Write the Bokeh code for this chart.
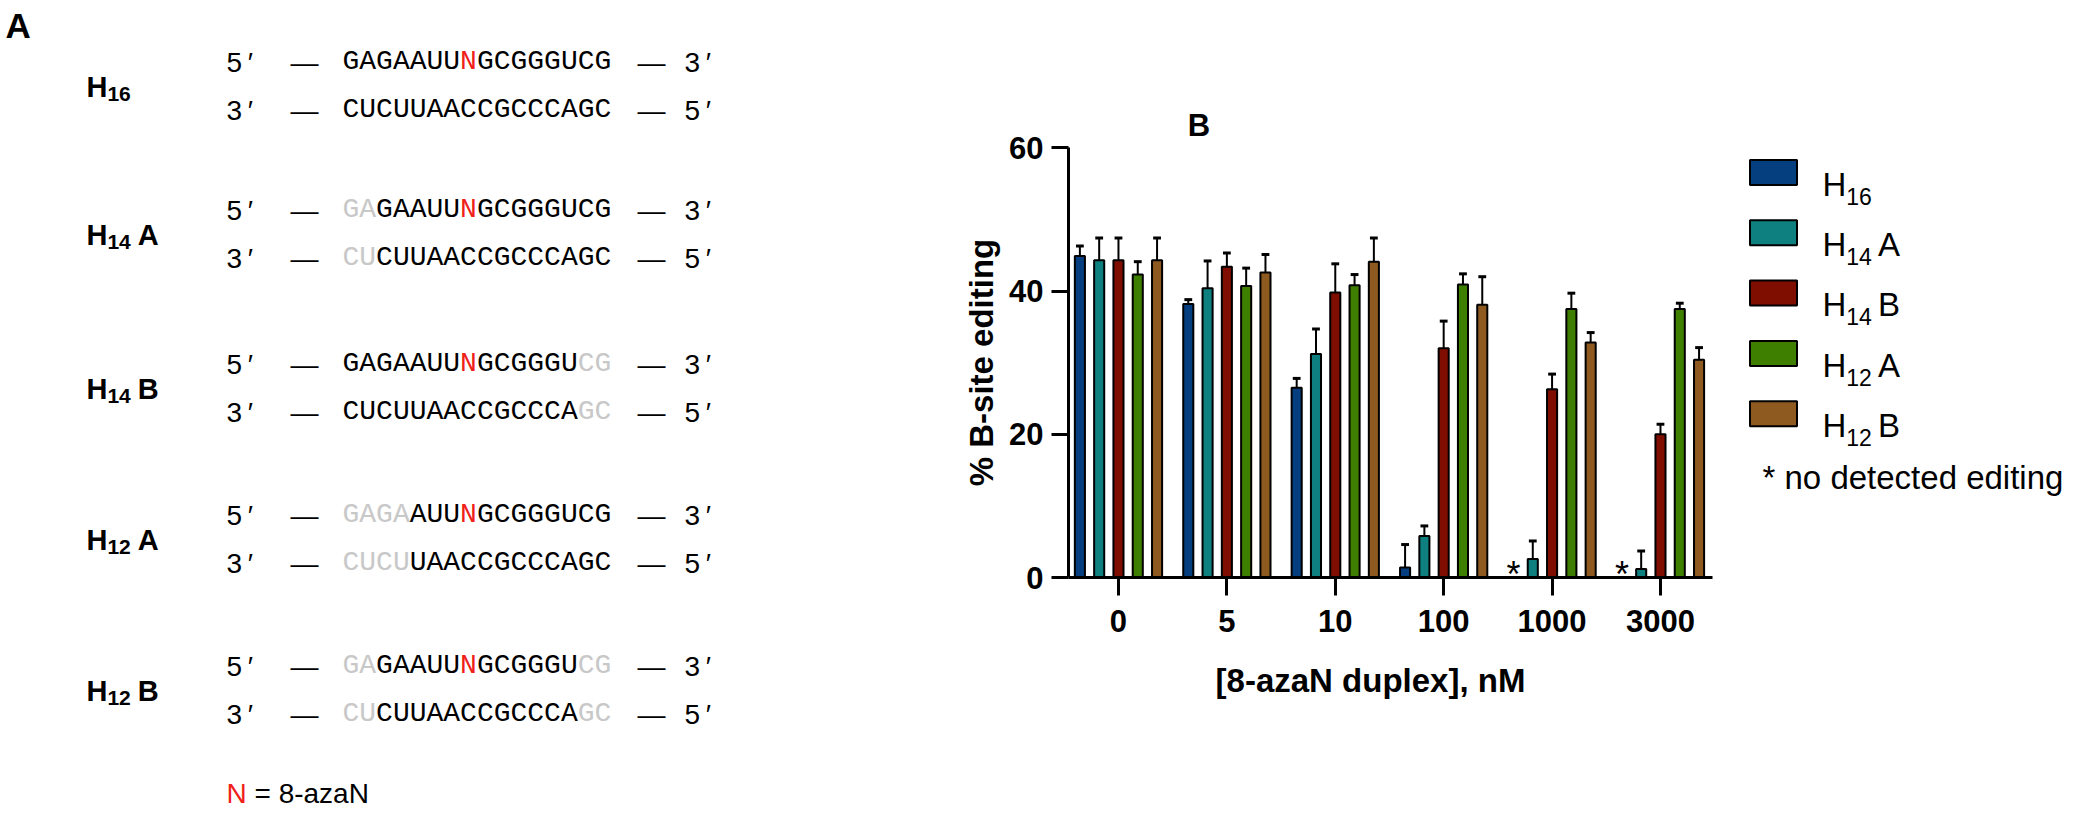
from bokeh.plotting import figure
from bokeh.models import Range1d, FixedTicker, ColumnDataSource, Label
from bokeh.embed import file_html
from bokeh.resources import INLINE
from bokeh.core.properties import value

# ---------------- data ----------------
concentrations = ["0", "5", "10", "100", "1000", "3000"]
series_main = ["H", "H", "H", "H", "H"]
series_sub = ["16", "14", "14", "12", "12"]
series_suffix = ["", "A", "B", "A", "B"]
series_colors = ["#063f80", "#0f8080", "#800e00", "#3f7f00", "#8f5a20"]

h16 = [44.9, 38.2, 26.5, 1.4, None, None]
h16_err = [1.4, 0.6, 1.3, 3.2, None, None]
h14a = [44.3, 40.4, 31.2, 5.8, 2.6, 1.2]
h14a_err = [3.1, 3.8, 3.5, 1.4, 2.5, 2.5]
h14b = [44.3, 43.4, 39.8, 32.0, 26.3, 20.0]
h14b_err = [3.1, 1.9, 4.0, 3.8, 2.1, 1.4]
h12a = [42.3, 40.7, 40.8, 40.9, 37.5, 37.5]
h12a_err = [1.8, 2.5, 1.5, 1.5, 2.2, 0.8]
h12b = [44.3, 42.6, 44.1, 38.1, 32.8, 30.4]
h12b_err = [3.1, 2.5, 3.3, 3.9, 1.4, 1.7]

y_ticks = [0, 20, 40, 60]
x_title = "[8-azaN duplex], nM"
y_title = "% B-site editing"
note_text = "* no detected editing"
panel_a = "A"
panel_b = "B"

top_strand = "GAGAAUUNGCGGGUCG"
bottom_strand = "CUCUUAACCGCCCAGC"
grey_top = [[], [0, 1], [14, 15], [0, 1, 2, 3], [0, 1, 14, 15]]
grey_bottom = [[], [0, 1], [14, 15], [0, 1, 2, 3], [0, 1, 14, 15]]
footnote_mark = "N"
footnote_rest = "\u00a0=\u00a08-azaN"

# ---------------- style ----------------
SANS = "Liberation Sans"
MONO = "Liberation Mono"
RED = "#f0201a"
GREY = "#c8c8c8"

W, H = 2069, 809
X0 = -0.461          # data x at the y axis
AX_PX = 1068         # canvas x of y axis
X_UNIT = 108.4       # px per category
Y0_PX = 577          # canvas y of y = 0
Y_UNIT = (577 - 147.3) / 60.0

x_lo = X0 - AX_PX / X_UNIT
x_hi = X0 + (W - AX_PX) / X_UNIT
y_lo = -(H - Y0_PX) / Y_UNIT
y_hi = Y0_PX / Y_UNIT

p = figure(width=W, height=H, x_range=Range1d(x_lo, x_hi), y_range=Range1d(y_lo, y_hi),
           toolbar_location=None, output_backend="svg", title=None, min_border=0,
           outline_line_color=None)
p.extra_x_ranges = {"px": Range1d(0, W)}
p.extra_y_ranges = {"py": Range1d(H, 0)}
p.xgrid.visible = False
p.ygrid.visible = False


def txt(x, y, s, size, color="black", bold=False, font=SANS, align="left"):
    p.text(x=[x], y=[y], text=[s], text_font=value(font),
           text_font_size=value(f"{size}px"), text_color=color,
           text_font_style="bold" if bold else "normal",
           text_align=align, text_baseline="alphabetic",
           x_range_name="px", y_range_name="py")


def sub_label(x, yc, main, sub, suffix, size, sub_size, bold, drop, gap):
    base = yc + 0.358 * size
    txt(x, base, main, size, bold=bold)
    xs = x + 0.722 * size
    txt(xs, base + drop, sub, sub_size, bold=bold)
    if suffix:
        xx = xs + 0.556 * sub_size * len(sub) + gap
        txt(xx, base, suffix, size, bold=bold)


# ---------------- panel A ----------------
txt(5, 25, panel_a, 35, bold=True)

rows5 = [52, 200, 354, 505, 656]
gap3 = 48
seq_x = 342
seq_font = 28
adv = 0.6 * seq_font
chars = dict(x=[], y=[], text=[], color=[])
for r in range(5):
    y5 = rows5[r]
    y3 = y5 + gap3
    sub_label(86, (y5 + y3) / 2, series_main[r], series_sub[r], series_suffix[r],
              29, 21, True, 7, 7)
    for yc, lab_l, lab_r, seq, grey in ((y5, "5\u2009\u2032", "3\u2009\u2032", top_strand, grey_top[r]),
                                        (y3, "3\u2009\u2032", "5\u2009\u2032", bottom_strand, grey_bottom[r])):
        base = yc + 0.358 * 28
        txt(226, base, lab_l, 28)
        txt(290, base, "\u2014", 28)
        txt(637, base, "\u2014", 28)
        txt(684, base, lab_r, 28)
        for i, ch in enumerate(seq):
            if i in grey:
                c = GREY
            elif seq is top_strand and ch == "N":
                c = RED
            else:
                c = "black"
            chars["x"].append(seq_x + (i + 0.5) * adv)
            chars["y"].append(yc + 0.31 * seq_font)
            chars["text"].append(ch)
            chars["color"].append(c)

p.text(x="x", y="y", text="text", text_color="color", source=ColumnDataSource(chars),
       text_font=value(MONO), text_font_size=value(f"{seq_font}px"),
       text_align="center", text_baseline="alphabetic", x_range_name="px", y_range_name="py")

fb = 783 + 0.358 * 28
txt(226, fb, footnote_mark, 28, color=RED)
txt(226 + 0.722 * 28, fb, footnote_rest, 28)

# ---------------- panel B (bar chart) ----------------
offsets = [-0.356, -0.178, 0.0, 0.178, 0.356]
values = [h16, h14a, h14b, h12a, h12b]
errors = [h16_err, h14a_err, h14b_err, h12a_err, h12b_err]
for k in range(5):
    xs = [i + offsets[k] for i, v in enumerate(values[k]) if v is not None]
    tops = [v for v in values[k] if v is not None]
    es = [e for v, e in zip(values[k], errors[k]) if v is not None]
    ends = [t + e for t, e in zip(tops, es)]
    p.segment(x0=xs, y0=tops, x1=xs, y1=ends, line_color="black", line_width=2)
    p.segment(x0=[x - 0.036 for x in xs], y0=ends, x1=[x + 0.036 for x in xs], y1=ends,
              line_color="black", line_width=3)
    p.vbar(x=xs, top=tops, bottom=0, width=0.093, fill_color=series_colors[k],
           line_color="black", line_width=2)

# asterisks where H16 not detected
ast_x = [i + offsets[0] for i, v in enumerate(h16) if v is None]
p.text(x=ast_x, y=[0.4] * len(ast_x), text=["*"] * len(ast_x), text_font=value(SANS),
       text_font_size=value("36px"), text_align="center", text_baseline="alphabetic")

p.add_layout(Label(x=0.64, y=63.1, text=panel_b, text_font=SANS, text_font_size="31px",
                   text_font_style="bold", text_baseline="alphabetic", text_color="black"))

for ax in (p.xaxis[0], p.yaxis[0]):
    ax.axis_line_width = 3
    ax.axis_line_color = "black"
    ax.major_tick_line_width = 3
    ax.major_tick_line_color = "black"
    ax.major_tick_in = 0
    ax.minor_tick_line_color = None
    ax.major_label_text_font = SANS
    ax.major_label_text_font_style = "bold"
    ax.major_label_text_font_size = "31px"
    ax.major_label_text_color = "black"
    ax.axis_label_text_font = SANS
    ax.axis_label_text_font_style = "bold"
    ax.axis_label_text_font_size = "33px"
    ax.axis_label_text_color = "black"

p.xaxis.fixed_location = 0
p.xaxis.bounds = (X0, X0 + (1712 - AX_PX) / X_UNIT)
p.xaxis.ticker = FixedTicker(ticks=list(range(len(concentrations))))
p.xaxis.major_label_overrides = {i: c for i, c in enumerate(concentrations)}
p.xaxis.major_tick_out = 18
p.xaxis.major_label_standoff = 14

# x-axis title, centred a little left of the axis middle as in the reference
txt(1370, 680, x_title, 33, bold=True, align="center")

p.yaxis.fixed_location = X0
p.yaxis.ticker = FixedTicker(ticks=y_ticks)
p.yaxis.bounds = (0, 60)
p.yaxis.major_tick_out = 17
p.yaxis.major_label_standoff = 8
p.yaxis.axis_label = y_title
p.yaxis.axis_label_standoff = 6

# ---------------- legend ----------------
leg_rows = [172 + 60.3 * k for k in range(5)]
p.rect(x=[1773] * 5, y=leg_rows, width=47, height=25, fill_color=series_colors,
       line_color="black", line_width=2, x_range_name="px", y_range_name="py")
for k in range(5):
    sub_label(1822, leg_rows[k], series_main[k], series_sub[k], series_suffix[k],
              33, 23, False, 12, 6)
txt(1762, 465 + 0.358 * 33, note_text, 33)

open("out.html", "w").write(file_html(p, INLINE))
